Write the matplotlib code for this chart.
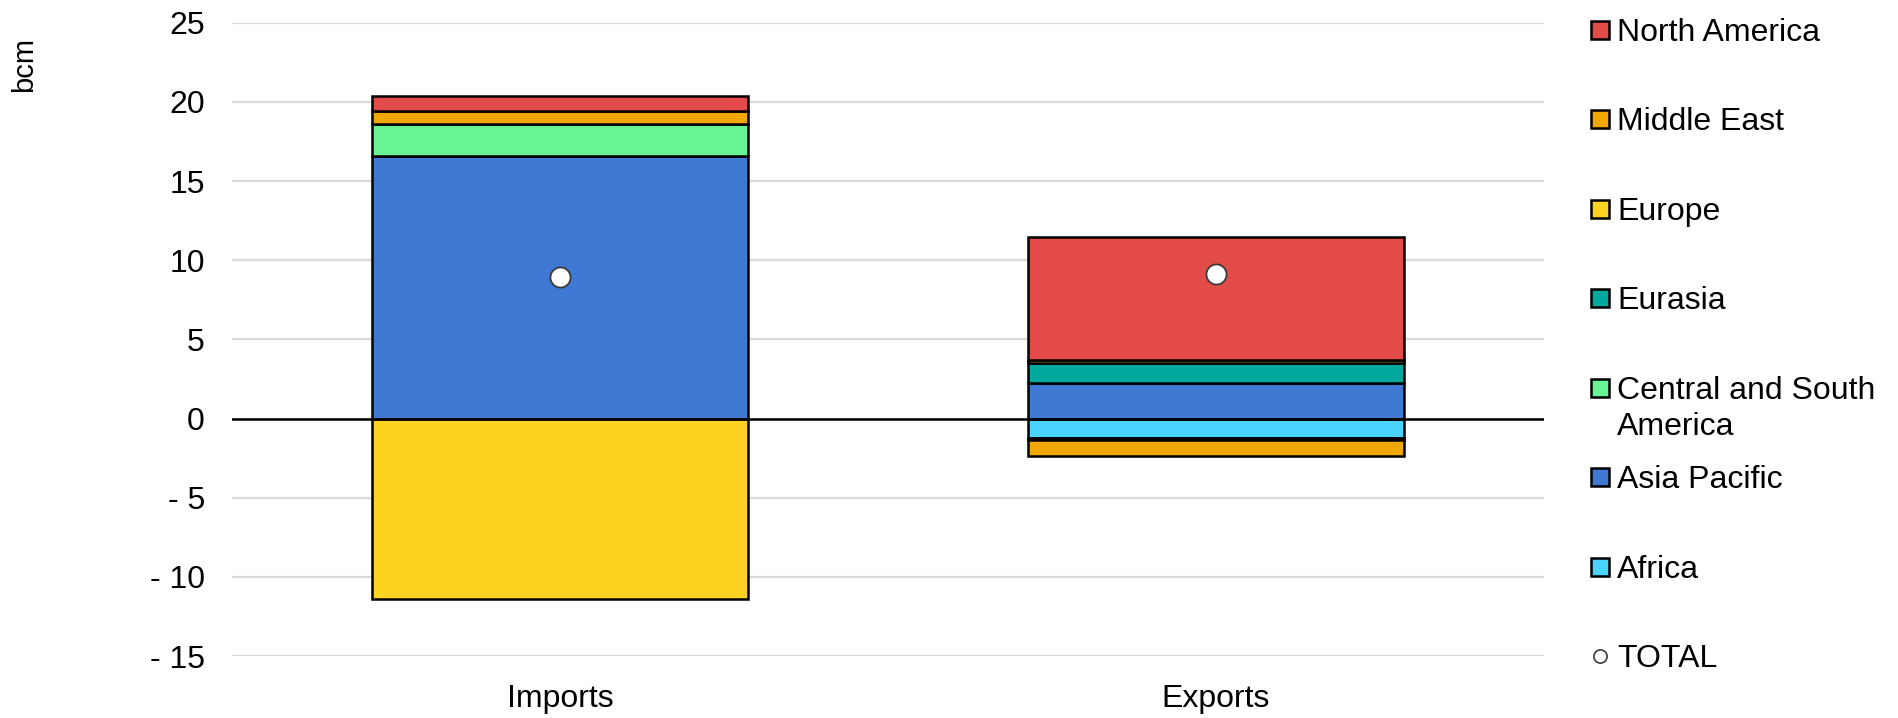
import matplotlib
matplotlib.use("Agg")
import matplotlib.pyplot as plt
from matplotlib.patches import Rectangle
import numpy as np

plt.rcParams['font.family'] = ['Liberation Sans', 'DejaVu Sans']

# Net change in gas trade by partner region, bcm
categories = ["Imports", "Exports"]
regions = ["Africa", "Asia Pacific", "Central and South\nAmerica", "Eurasia",
           "Europe", "Middle East", "North America"]
africa = [0.0, -1.25]
asia_pacific = [16.6, 2.25]
central_south_america = [2.0, -0.12]
eurasia = [0.0, 1.25]
europe = [-11.4, 0.2]
middle_east = [0.85, -0.98]
north_america = [0.9, 7.75]
colors = ["#4ad3fd", "#3f79d3", "#69f494", "#00a99e", "#fed220", "#f0a800", "#e34b48"]
y_ticks = [-15, -10, -5, 0, 5, 10, 15, 20, 25]
total_label = "TOTAL"
unit_label = "bcm"

series = [africa, asia_pacific, central_south_america, eurasia, europe,
          middle_east, north_america]

W, H = 1899, 718
FS = 23
EDGE = 1.8
fig = plt.figure(figsize=(W / 100, H / 100), dpi=100)
ax = fig.add_axes([232 / W, 1 - 656 / H, 1312 / W, (656 - 22.7) / H])

x = np.arange(len(categories))
pos_base = np.zeros(len(categories))
neg_base = np.zeros(len(categories))
for vals, color in zip(series, colors):
    for i, v in enumerate(vals):
        if v == 0:
            continue
        base = pos_base[i] if v > 0 else neg_base[i]
        ax.bar(x[i], v, bottom=base, width=0.573, color=color,
               edgecolor="black", linewidth=EDGE, zorder=3)
        if v > 0:
            pos_base[i] += v
        else:
            neg_base[i] += v

totals = np.sum(np.array(series), axis=0)
ax.plot(x, totals, linestyle="none", marker="o", ms=14.5, mfc="white",
        mec="#3a3a3a", mew=1.3, zorder=6)

ax.axhline(0, color="black", linewidth=EDGE, zorder=4)
ax.set_xlim(-0.5, 1.5)
ax.set_ylim(y_ticks[0], y_ticks[-1])
ax.set_yticks(y_ticks)
ax.set_yticklabels([f"- {abs(t)}" if t < 0 else f"{t}" for t in y_ticks])
ax.set_xticks(x)
ax.set_xticklabels(categories)
ax.yaxis.grid(True, color="#d9d9d9", linewidth=1.6)
ax.set_axisbelow(True)
for s in ax.spines.values():
    s.set_visible(False)
ax.tick_params(axis="y", length=0, labelsize=FS, pad=19.5)
ax.tick_params(axis="x", length=0, labelsize=FS, pad=20)

fig.text(24 / W, 1 - 64 / H, unit_label, rotation=90, ha="center", va="center",
         fontsize=21)

# Legend column on the right, top entry first
lax = fig.add_axes([0, 0, 1, 1])
lax.set_xlim(0, W)
lax.set_ylim(H, 0)
lax.axis("off")
leg_y0, leg_step, line_step = 29.5, 89.5, 36
cap_half = 0.716 * FS * 100 / 72 / 2
for k, idx in enumerate(reversed(range(len(regions)))):
    yc = leg_y0 + k * leg_step
    lax.add_patch(Rectangle((1591, yc - 9), 18, 18, facecolor=colors[idx],
                            edgecolor="black", linewidth=EDGE))
    for j, line in enumerate(regions[idx].split("\n")):
        lax.text(1617, yc + cap_half + j * line_step, line, va="baseline",
                 ha="left", fontsize=FS)
yc = leg_y0 + len(regions) * leg_step
lax.plot([1600], [yc], linestyle="none", marker="o", ms=9.5, mfc="white",
         mec="#3a3a3a", mew=1.2)
lax.text(1617, yc + cap_half, total_label, va="baseline", ha="left", fontsize=FS)

fig.savefig("out.png", dpi=100)
